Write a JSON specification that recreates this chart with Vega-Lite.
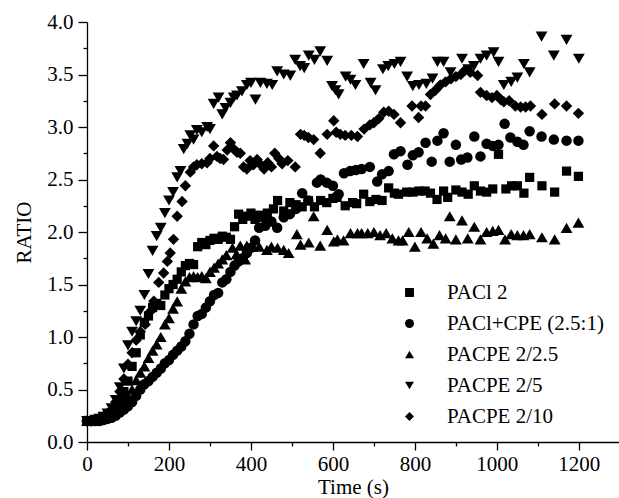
{
  "$schema": "https://vega.github.io/schema/vega-lite/v6.json",
  "autosize": {"type": "none"},
  "padding": {"left": 87, "top": 22, "right": 0, "bottom": 56},
  "width": 532,
  "height": 420,
  "background": "white",
  "config": {
    "view": {"stroke": null},
    "font": "Liberation Serif, Times New Roman, serif"
  },
  "data": {"values": [
{"s":"PACl 2","t":0,"r":0.20},{"s":"PACl 2","t":10,"r":0.20},{"s":"PACl 2","t":20,"r":0.21},{"s":"PACl 2","t":30,"r":0.22},{"s":"PACl 2","t":40,"r":0.23},{"s":"PACl 2","t":50,"r":0.25},{"s":"PACl 2","t":60,"r":0.28},{"s":"PACl 2","t":70,"r":0.33},{"s":"PACl 2","t":80,"r":0.40},{"s":"PACl 2","t":90,"r":0.48},{"s":"PACl 2","t":100,"r":0.58},{"s":"PACl 2","t":110,"r":0.72},{"s":"PACl 2","t":120,"r":0.85},{"s":"PACl 2","t":130,"r":1.02},{"s":"PACl 2","t":140,"r":1.14},{"s":"PACl 2","t":150,"r":1.20},{"s":"PACl 2","t":160,"r":1.28},{"s":"PACl 2","t":170,"r":1.32},{"s":"PACl 2","t":180,"r":1.30},{"s":"PACl 2","t":190,"r":1.40},{"s":"PACl 2","t":200,"r":1.46},{"s":"PACl 2","t":210,"r":1.50},{"s":"PACl 2","t":220,"r":1.55},{"s":"PACl 2","t":230,"r":1.62},{"s":"PACl 2","t":240,"r":1.68},{"s":"PACl 2","t":250,"r":1.70},{"s":"PACl 2","t":260,"r":1.69},{"s":"PACl 2","t":270,"r":1.86},{"s":"PACl 2","t":280,"r":1.90},{"s":"PACl 2","t":290,"r":1.88},{"s":"PACl 2","t":300,"r":1.92},{"s":"PACl 2","t":310,"r":1.94},{"s":"PACl 2","t":320,"r":1.93},{"s":"PACl 2","t":330,"r":1.96},{"s":"PACl 2","t":340,"r":1.95},{"s":"PACl 2","t":350,"r":1.93},{"s":"PACl 2","t":360,"r":2.05},{"s":"PACl 2","t":370,"r":2.17},{"s":"PACl 2","t":380,"r":2.12},{"s":"PACl 2","t":390,"r":2.15},{"s":"PACl 2","t":400,"r":2.18},{"s":"PACl 2","t":410,"r":2.12},{"s":"PACl 2","t":420,"r":2.16},{"s":"PACl 2","t":430,"r":2.14},{"s":"PACl 2","t":440,"r":2.18},{"s":"PACl 2","t":455,"r":2.22},{"s":"PACl 2","t":465,"r":2.30},{"s":"PACl 2","t":480,"r":2.20},{"s":"PACl 2","t":495,"r":2.28},{"s":"PACl 2","t":510,"r":2.26},{"s":"PACl 2","t":525,"r":2.24},{"s":"PACl 2","t":540,"r":2.30},{"s":"PACl 2","t":555,"r":2.24},{"s":"PACl 2","t":570,"r":2.30},{"s":"PACl 2","t":585,"r":2.28},{"s":"PACl 2","t":600,"r":2.32},{"s":"PACl 2","t":610,"r":2.33},{"s":"PACl 2","t":630,"r":2.25},{"s":"PACl 2","t":648,"r":2.28},{"s":"PACl 2","t":658,"r":2.27},{"s":"PACl 2","t":675,"r":2.36},{"s":"PACl 2","t":690,"r":2.29},{"s":"PACl 2","t":705,"r":2.31},{"s":"PACl 2","t":720,"r":2.30},{"s":"PACl 2","t":736,"r":2.42},{"s":"PACl 2","t":750,"r":2.37},{"s":"PACl 2","t":760,"r":2.36},{"s":"PACl 2","t":780,"r":2.38},{"s":"PACl 2","t":795,"r":2.38},{"s":"PACl 2","t":810,"r":2.39},{"s":"PACl 2","t":825,"r":2.39},{"s":"PACl 2","t":838,"r":2.37},{"s":"PACl 2","t":854,"r":2.31},{"s":"PACl 2","t":870,"r":2.39},{"s":"PACl 2","t":880,"r":2.33},{"s":"PACl 2","t":900,"r":2.40},{"s":"PACl 2","t":915,"r":2.38},{"s":"PACl 2","t":930,"r":2.36},{"s":"PACl 2","t":945,"r":2.44},{"s":"PACl 2","t":960,"r":2.39},{"s":"PACl 2","t":975,"r":2.38},{"s":"PACl 2","t":990,"r":2.41},{"s":"PACl 2","t":1004,"r":2.74},{"s":"PACl 2","t":1022,"r":2.41},{"s":"PACl 2","t":1036,"r":2.44},{"s":"PACl 2","t":1050,"r":2.44},{"s":"PACl 2","t":1066,"r":2.37},{"s":"PACl 2","t":1080,"r":2.52},{"s":"PACl 2","t":1110,"r":2.44},{"s":"PACl 2","t":1141,"r":2.38},{"s":"PACl 2","t":1170,"r":2.58},{"s":"PACl 2","t":1199,"r":2.53},
{"s":"PACl+CPE (2.5:1)","t":0,"r":0.20},{"s":"PACl+CPE (2.5:1)","t":10,"r":0.20},{"s":"PACl+CPE (2.5:1)","t":20,"r":0.20},{"s":"PACl+CPE (2.5:1)","t":30,"r":0.20},{"s":"PACl+CPE (2.5:1)","t":40,"r":0.21},{"s":"PACl+CPE (2.5:1)","t":50,"r":0.22},{"s":"PACl+CPE (2.5:1)","t":60,"r":0.23},{"s":"PACl+CPE (2.5:1)","t":70,"r":0.25},{"s":"PACl+CPE (2.5:1)","t":80,"r":0.28},{"s":"PACl+CPE (2.5:1)","t":90,"r":0.31},{"s":"PACl+CPE (2.5:1)","t":100,"r":0.34},{"s":"PACl+CPE (2.5:1)","t":110,"r":0.38},{"s":"PACl+CPE (2.5:1)","t":120,"r":0.44},{"s":"PACl+CPE (2.5:1)","t":130,"r":0.50},{"s":"PACl+CPE (2.5:1)","t":140,"r":0.55},{"s":"PACl+CPE (2.5:1)","t":150,"r":0.58},{"s":"PACl+CPE (2.5:1)","t":160,"r":0.62},{"s":"PACl+CPE (2.5:1)","t":170,"r":0.66},{"s":"PACl+CPE (2.5:1)","t":180,"r":0.70},{"s":"PACl+CPE (2.5:1)","t":190,"r":0.75},{"s":"PACl+CPE (2.5:1)","t":200,"r":0.78},{"s":"PACl+CPE (2.5:1)","t":210,"r":0.83},{"s":"PACl+CPE (2.5:1)","t":220,"r":0.87},{"s":"PACl+CPE (2.5:1)","t":230,"r":0.91},{"s":"PACl+CPE (2.5:1)","t":240,"r":0.96},{"s":"PACl+CPE (2.5:1)","t":250,"r":1.03},{"s":"PACl+CPE (2.5:1)","t":260,"r":1.12},{"s":"PACl+CPE (2.5:1)","t":270,"r":1.20},{"s":"PACl+CPE (2.5:1)","t":280,"r":1.22},{"s":"PACl+CPE (2.5:1)","t":290,"r":1.28},{"s":"PACl+CPE (2.5:1)","t":300,"r":1.34},{"s":"PACl+CPE (2.5:1)","t":310,"r":1.40},{"s":"PACl+CPE (2.5:1)","t":320,"r":1.42},{"s":"PACl+CPE (2.5:1)","t":330,"r":1.52},{"s":"PACl+CPE (2.5:1)","t":340,"r":1.55},{"s":"PACl+CPE (2.5:1)","t":350,"r":1.62},{"s":"PACl+CPE (2.5:1)","t":360,"r":1.68},{"s":"PACl+CPE (2.5:1)","t":370,"r":1.72},{"s":"PACl+CPE (2.5:1)","t":380,"r":1.75},{"s":"PACl+CPE (2.5:1)","t":390,"r":1.80},{"s":"PACl+CPE (2.5:1)","t":400,"r":1.85},{"s":"PACl+CPE (2.5:1)","t":410,"r":1.92},{"s":"PACl+CPE (2.5:1)","t":420,"r":2.04},{"s":"PACl+CPE (2.5:1)","t":435,"r":2.06},{"s":"PACl+CPE (2.5:1)","t":450,"r":2.10},{"s":"PACl+CPE (2.5:1)","t":464,"r":2.04},{"s":"PACl+CPE (2.5:1)","t":480,"r":2.14},{"s":"PACl+CPE (2.5:1)","t":495,"r":2.17},{"s":"PACl+CPE (2.5:1)","t":510,"r":2.22},{"s":"PACl+CPE (2.5:1)","t":525,"r":2.37},{"s":"PACl+CPE (2.5:1)","t":540,"r":2.30},{"s":"PACl+CPE (2.5:1)","t":561,"r":2.47},{"s":"PACl+CPE (2.5:1)","t":570,"r":2.50},{"s":"PACl+CPE (2.5:1)","t":585,"r":2.47},{"s":"PACl+CPE (2.5:1)","t":600,"r":2.44},{"s":"PACl+CPE (2.5:1)","t":614,"r":2.36},{"s":"PACl+CPE (2.5:1)","t":627,"r":2.56},{"s":"PACl+CPE (2.5:1)","t":642,"r":2.58},{"s":"PACl+CPE (2.5:1)","t":656,"r":2.59},{"s":"PACl+CPE (2.5:1)","t":670,"r":2.60},{"s":"PACl+CPE (2.5:1)","t":690,"r":2.62},{"s":"PACl+CPE (2.5:1)","t":708,"r":2.48},{"s":"PACl+CPE (2.5:1)","t":720,"r":2.55},{"s":"PACl+CPE (2.5:1)","t":736,"r":2.58},{"s":"PACl+CPE (2.5:1)","t":749,"r":2.74},{"s":"PACl+CPE (2.5:1)","t":765,"r":2.77},{"s":"PACl+CPE (2.5:1)","t":782,"r":2.64},{"s":"PACl+CPE (2.5:1)","t":795,"r":2.73},{"s":"PACl+CPE (2.5:1)","t":809,"r":2.76},{"s":"PACl+CPE (2.5:1)","t":826,"r":2.85},{"s":"PACl+CPE (2.5:1)","t":841,"r":2.67},{"s":"PACl+CPE (2.5:1)","t":855,"r":2.87},{"s":"PACl+CPE (2.5:1)","t":870,"r":2.94},{"s":"PACl+CPE (2.5:1)","t":885,"r":2.67},{"s":"PACl+CPE (2.5:1)","t":900,"r":2.83},{"s":"PACl+CPE (2.5:1)","t":913,"r":2.69},{"s":"PACl+CPE (2.5:1)","t":928,"r":2.71},{"s":"PACl+CPE (2.5:1)","t":945,"r":2.91},{"s":"PACl+CPE (2.5:1)","t":960,"r":2.72},{"s":"PACl+CPE (2.5:1)","t":975,"r":2.84},{"s":"PACl+CPE (2.5:1)","t":990,"r":2.82},{"s":"PACl+CPE (2.5:1)","t":1004,"r":2.83},{"s":"PACl+CPE (2.5:1)","t":1019,"r":3.03},{"s":"PACl+CPE (2.5:1)","t":1033,"r":2.90},{"s":"PACl+CPE (2.5:1)","t":1050,"r":2.86},{"s":"PACl+CPE (2.5:1)","t":1065,"r":2.83},{"s":"PACl+CPE (2.5:1)","t":1080,"r":2.96},{"s":"PACl+CPE (2.5:1)","t":1109,"r":2.91},{"s":"PACl+CPE (2.5:1)","t":1139,"r":2.88},{"s":"PACl+CPE (2.5:1)","t":1170,"r":2.87},{"s":"PACl+CPE (2.5:1)","t":1199,"r":2.87},
{"s":"PACPE 2/2.5","t":0,"r":0.20},{"s":"PACPE 2/2.5","t":10,"r":0.20},{"s":"PACPE 2/2.5","t":20,"r":0.21},{"s":"PACPE 2/2.5","t":30,"r":0.21},{"s":"PACPE 2/2.5","t":40,"r":0.22},{"s":"PACPE 2/2.5","t":50,"r":0.24},{"s":"PACPE 2/2.5","t":60,"r":0.27},{"s":"PACPE 2/2.5","t":70,"r":0.31},{"s":"PACPE 2/2.5","t":80,"r":0.36},{"s":"PACPE 2/2.5","t":90,"r":0.40},{"s":"PACPE 2/2.5","t":100,"r":0.44},{"s":"PACPE 2/2.5","t":110,"r":0.50},{"s":"PACPE 2/2.5","t":120,"r":0.59},{"s":"PACPE 2/2.5","t":130,"r":0.66},{"s":"PACPE 2/2.5","t":140,"r":0.72},{"s":"PACPE 2/2.5","t":150,"r":0.80},{"s":"PACPE 2/2.5","t":160,"r":0.87},{"s":"PACPE 2/2.5","t":170,"r":0.93},{"s":"PACPE 2/2.5","t":180,"r":1.00},{"s":"PACPE 2/2.5","t":190,"r":1.12},{"s":"PACPE 2/2.5","t":200,"r":1.18},{"s":"PACPE 2/2.5","t":210,"r":1.27},{"s":"PACPE 2/2.5","t":220,"r":1.34},{"s":"PACPE 2/2.5","t":230,"r":1.46},{"s":"PACPE 2/2.5","t":240,"r":1.53},{"s":"PACPE 2/2.5","t":250,"r":1.57},{"s":"PACPE 2/2.5","t":260,"r":1.58},{"s":"PACPE 2/2.5","t":270,"r":1.57},{"s":"PACPE 2/2.5","t":280,"r":1.58},{"s":"PACPE 2/2.5","t":290,"r":1.56},{"s":"PACPE 2/2.5","t":300,"r":1.62},{"s":"PACPE 2/2.5","t":310,"r":1.66},{"s":"PACPE 2/2.5","t":320,"r":1.70},{"s":"PACPE 2/2.5","t":330,"r":1.74},{"s":"PACPE 2/2.5","t":340,"r":1.78},{"s":"PACPE 2/2.5","t":355,"r":1.85},{"s":"PACPE 2/2.5","t":365,"r":1.79},{"s":"PACPE 2/2.5","t":374,"r":1.87},{"s":"PACPE 2/2.5","t":386,"r":1.74},{"s":"PACPE 2/2.5","t":390,"r":1.87},{"s":"PACPE 2/2.5","t":403,"r":1.86},{"s":"PACPE 2/2.5","t":420,"r":1.86},{"s":"PACPE 2/2.5","t":439,"r":1.83},{"s":"PACPE 2/2.5","t":450,"r":1.86},{"s":"PACPE 2/2.5","t":465,"r":1.85},{"s":"PACPE 2/2.5","t":480,"r":1.83},{"s":"PACPE 2/2.5","t":492,"r":1.80},{"s":"PACPE 2/2.5","t":512,"r":1.98},{"s":"PACPE 2/2.5","t":521,"r":1.88},{"s":"PACPE 2/2.5","t":541,"r":1.90},{"s":"PACPE 2/2.5","t":553,"r":2.15},{"s":"PACPE 2/2.5","t":569,"r":1.87},{"s":"PACPE 2/2.5","t":586,"r":2.02},{"s":"PACPE 2/2.5","t":602,"r":1.91},{"s":"PACPE 2/2.5","t":611,"r":1.93},{"s":"PACPE 2/2.5","t":626,"r":1.92},{"s":"PACPE 2/2.5","t":643,"r":1.99},{"s":"PACPE 2/2.5","t":660,"r":1.99},{"s":"PACPE 2/2.5","t":670,"r":1.99},{"s":"PACPE 2/2.5","t":685,"r":1.99},{"s":"PACPE 2/2.5","t":700,"r":2.00},{"s":"PACPE 2/2.5","t":715,"r":1.97},{"s":"PACPE 2/2.5","t":730,"r":1.99},{"s":"PACPE 2/2.5","t":745,"r":1.94},{"s":"PACPE 2/2.5","t":760,"r":1.92},{"s":"PACPE 2/2.5","t":770,"r":1.92},{"s":"PACPE 2/2.5","t":785,"r":2.00},{"s":"PACPE 2/2.5","t":800,"r":1.86},{"s":"PACPE 2/2.5","t":815,"r":2.00},{"s":"PACPE 2/2.5","t":830,"r":1.94},{"s":"PACPE 2/2.5","t":845,"r":1.89},{"s":"PACPE 2/2.5","t":860,"r":1.97},{"s":"PACPE 2/2.5","t":875,"r":1.94},{"s":"PACPE 2/2.5","t":885,"r":2.15},{"s":"PACPE 2/2.5","t":900,"r":1.93},{"s":"PACPE 2/2.5","t":915,"r":2.11},{"s":"PACPE 2/2.5","t":929,"r":1.94},{"s":"PACPE 2/2.5","t":945,"r":2.05},{"s":"PACPE 2/2.5","t":960,"r":1.93},{"s":"PACPE 2/2.5","t":975,"r":2.00},{"s":"PACPE 2/2.5","t":990,"r":2.01},{"s":"PACPE 2/2.5","t":1004,"r":2.02},{"s":"PACPE 2/2.5","t":1020,"r":1.93},{"s":"PACPE 2/2.5","t":1035,"r":1.98},{"s":"PACPE 2/2.5","t":1050,"r":1.97},{"s":"PACPE 2/2.5","t":1065,"r":1.97},{"s":"PACPE 2/2.5","t":1080,"r":1.98},{"s":"PACPE 2/2.5","t":1110,"r":1.95},{"s":"PACPE 2/2.5","t":1141,"r":1.93},{"s":"PACPE 2/2.5","t":1170,"r":2.04},{"s":"PACPE 2/2.5","t":1199,"r":2.09},
{"s":"PACPE 2/5","t":0,"r":0.20},{"s":"PACPE 2/5","t":10,"r":0.20},{"s":"PACPE 2/5","t":20,"r":0.21},{"s":"PACPE 2/5","t":30,"r":0.22},{"s":"PACPE 2/5","t":40,"r":0.24},{"s":"PACPE 2/5","t":50,"r":0.27},{"s":"PACPE 2/5","t":60,"r":0.32},{"s":"PACPE 2/5","t":70,"r":0.40},{"s":"PACPE 2/5","t":80,"r":0.52},{"s":"PACPE 2/5","t":90,"r":0.70},{"s":"PACPE 2/5","t":100,"r":0.92},{"s":"PACPE 2/5","t":110,"r":1.05},{"s":"PACPE 2/5","t":120,"r":1.15},{"s":"PACPE 2/5","t":130,"r":1.25},{"s":"PACPE 2/5","t":140,"r":1.40},{"s":"PACPE 2/5","t":150,"r":1.60},{"s":"PACPE 2/5","t":160,"r":1.82},{"s":"PACPE 2/5","t":170,"r":1.96},{"s":"PACPE 2/5","t":180,"r":2.04},{"s":"PACPE 2/5","t":190,"r":2.18},{"s":"PACPE 2/5","t":200,"r":2.30},{"s":"PACPE 2/5","t":210,"r":2.38},{"s":"PACPE 2/5","t":220,"r":2.52},{"s":"PACPE 2/5","t":228,"r":2.58},{"s":"PACPE 2/5","t":236,"r":2.79},{"s":"PACPE 2/5","t":245,"r":2.84},{"s":"PACPE 2/5","t":252,"r":2.92},{"s":"PACPE 2/5","t":260,"r":2.88},{"s":"PACPE 2/5","t":268,"r":2.97},{"s":"PACPE 2/5","t":280,"r":2.95},{"s":"PACPE 2/5","t":293,"r":3.00},{"s":"PACPE 2/5","t":300,"r":2.98},{"s":"PACPE 2/5","t":309,"r":3.22},{"s":"PACPE 2/5","t":321,"r":3.28},{"s":"PACPE 2/5","t":330,"r":3.12},{"s":"PACPE 2/5","t":338,"r":3.18},{"s":"PACPE 2/5","t":350,"r":3.23},{"s":"PACPE 2/5","t":358,"r":3.28},{"s":"PACPE 2/5","t":366,"r":3.30},{"s":"PACPE 2/5","t":378,"r":3.34},{"s":"PACPE 2/5","t":390,"r":3.40},{"s":"PACPE 2/5","t":400,"r":3.42},{"s":"PACPE 2/5","t":411,"r":3.26},{"s":"PACPE 2/5","t":423,"r":3.42},{"s":"PACPE 2/5","t":439,"r":3.41},{"s":"PACPE 2/5","t":452,"r":3.40},{"s":"PACPE 2/5","t":464,"r":3.53},{"s":"PACPE 2/5","t":480,"r":3.50},{"s":"PACPE 2/5","t":496,"r":3.49},{"s":"PACPE 2/5","t":508,"r":3.64},{"s":"PACPE 2/5","t":520,"r":3.58},{"s":"PACPE 2/5","t":530,"r":3.56},{"s":"PACPE 2/5","t":541,"r":3.68},{"s":"PACPE 2/5","t":555,"r":3.64},{"s":"PACPE 2/5","t":569,"r":3.72},{"s":"PACPE 2/5","t":586,"r":3.63},{"s":"PACPE 2/5","t":598,"r":3.39},{"s":"PACPE 2/5","t":606,"r":3.35},{"s":"PACPE 2/5","t":614,"r":3.31},{"s":"PACPE 2/5","t":631,"r":3.48},{"s":"PACPE 2/5","t":643,"r":3.45},{"s":"PACPE 2/5","t":655,"r":3.40},{"s":"PACPE 2/5","t":675,"r":3.60},{"s":"PACPE 2/5","t":692,"r":3.42},{"s":"PACPE 2/5","t":704,"r":3.35},{"s":"PACPE 2/5","t":722,"r":3.55},{"s":"PACPE 2/5","t":735,"r":3.58},{"s":"PACPE 2/5","t":750,"r":3.60},{"s":"PACPE 2/5","t":765,"r":3.62},{"s":"PACPE 2/5","t":781,"r":3.48},{"s":"PACPE 2/5","t":795,"r":3.39},{"s":"PACPE 2/5","t":810,"r":3.40},{"s":"PACPE 2/5","t":828,"r":3.41},{"s":"PACPE 2/5","t":843,"r":3.46},{"s":"PACPE 2/5","t":855,"r":3.62},{"s":"PACPE 2/5","t":870,"r":3.62},{"s":"PACPE 2/5","t":887,"r":3.52},{"s":"PACPE 2/5","t":915,"r":3.65},{"s":"PACPE 2/5","t":930,"r":3.55},{"s":"PACPE 2/5","t":944,"r":3.58},{"s":"PACPE 2/5","t":960,"r":3.65},{"s":"PACPE 2/5","t":975,"r":3.68},{"s":"PACPE 2/5","t":992,"r":3.71},{"s":"PACPE 2/5","t":1004,"r":3.62},{"s":"PACPE 2/5","t":1017,"r":3.40},{"s":"PACPE 2/5","t":1035,"r":3.43},{"s":"PACPE 2/5","t":1050,"r":3.47},{"s":"PACPE 2/5","t":1066,"r":3.60},{"s":"PACPE 2/5","t":1080,"r":3.52},{"s":"PACPE 2/5","t":1109,"r":3.86},{"s":"PACPE 2/5","t":1139,"r":3.68},{"s":"PACPE 2/5","t":1170,"r":3.83},{"s":"PACPE 2/5","t":1200,"r":3.65},
{"s":"PACPE 2/10","t":0,"r":0.20},{"s":"PACPE 2/10","t":10,"r":0.20},{"s":"PACPE 2/10","t":20,"r":0.21},{"s":"PACPE 2/10","t":30,"r":0.22},{"s":"PACPE 2/10","t":40,"r":0.24},{"s":"PACPE 2/10","t":50,"r":0.27},{"s":"PACPE 2/10","t":60,"r":0.31},{"s":"PACPE 2/10","t":70,"r":0.38},{"s":"PACPE 2/10","t":80,"r":0.48},{"s":"PACPE 2/10","t":90,"r":0.60},{"s":"PACPE 2/10","t":100,"r":0.74},{"s":"PACPE 2/10","t":110,"r":0.85},{"s":"PACPE 2/10","t":120,"r":0.97},{"s":"PACPE 2/10","t":130,"r":1.05},{"s":"PACPE 2/10","t":142,"r":1.12},{"s":"PACPE 2/10","t":154,"r":1.24},{"s":"PACPE 2/10","t":163,"r":1.34},{"s":"PACPE 2/10","t":175,"r":1.52},{"s":"PACPE 2/10","t":187,"r":1.61},{"s":"PACPE 2/10","t":196,"r":1.72},{"s":"PACPE 2/10","t":203,"r":1.80},{"s":"PACPE 2/10","t":211,"r":1.93},{"s":"PACPE 2/10","t":220,"r":2.15},{"s":"PACPE 2/10","t":232,"r":2.29},{"s":"PACPE 2/10","t":240,"r":2.44},{"s":"PACPE 2/10","t":252,"r":2.57},{"s":"PACPE 2/10","t":260,"r":2.62},{"s":"PACPE 2/10","t":268,"r":2.64},{"s":"PACPE 2/10","t":280,"r":2.65},{"s":"PACPE 2/10","t":293,"r":2.66},{"s":"PACPE 2/10","t":300,"r":2.70},{"s":"PACPE 2/10","t":309,"r":2.82},{"s":"PACPE 2/10","t":317,"r":2.72},{"s":"PACPE 2/10","t":325,"r":2.70},{"s":"PACPE 2/10","t":333,"r":2.69},{"s":"PACPE 2/10","t":342,"r":2.78},{"s":"PACPE 2/10","t":350,"r":2.85},{"s":"PACPE 2/10","t":358,"r":2.79},{"s":"PACPE 2/10","t":366,"r":2.76},{"s":"PACPE 2/10","t":374,"r":2.75},{"s":"PACPE 2/10","t":382,"r":2.62},{"s":"PACPE 2/10","t":390,"r":2.60},{"s":"PACPE 2/10","t":398,"r":2.68},{"s":"PACPE 2/10","t":406,"r":2.64},{"s":"PACPE 2/10","t":415,"r":2.69},{"s":"PACPE 2/10","t":424,"r":2.64},{"s":"PACPE 2/10","t":432,"r":2.60},{"s":"PACPE 2/10","t":441,"r":2.66},{"s":"PACPE 2/10","t":450,"r":2.62},{"s":"PACPE 2/10","t":458,"r":2.75},{"s":"PACPE 2/10","t":468,"r":2.70},{"s":"PACPE 2/10","t":476,"r":2.65},{"s":"PACPE 2/10","t":490,"r":2.68},{"s":"PACPE 2/10","t":508,"r":2.62},{"s":"PACPE 2/10","t":521,"r":2.93},{"s":"PACPE 2/10","t":530,"r":2.92},{"s":"PACPE 2/10","t":540,"r":2.90},{"s":"PACPE 2/10","t":553,"r":2.88},{"s":"PACPE 2/10","t":569,"r":2.75},{"s":"PACPE 2/10","t":586,"r":2.93},{"s":"PACPE 2/10","t":602,"r":3.06},{"s":"PACPE 2/10","t":608,"r":2.95},{"s":"PACPE 2/10","t":618,"r":2.93},{"s":"PACPE 2/10","t":630,"r":2.92},{"s":"PACPE 2/10","t":645,"r":2.92},{"s":"PACPE 2/10","t":660,"r":2.91},{"s":"PACPE 2/10","t":676,"r":2.98},{"s":"PACPE 2/10","t":690,"r":3.02},{"s":"PACPE 2/10","t":700,"r":3.04},{"s":"PACPE 2/10","t":712,"r":3.08},{"s":"PACPE 2/10","t":724,"r":3.14},{"s":"PACPE 2/10","t":736,"r":3.15},{"s":"PACPE 2/10","t":749,"r":3.12},{"s":"PACPE 2/10","t":765,"r":3.04},{"s":"PACPE 2/10","t":793,"r":3.20},{"s":"PACPE 2/10","t":809,"r":3.09},{"s":"PACPE 2/10","t":815,"r":3.20},{"s":"PACPE 2/10","t":826,"r":3.20},{"s":"PACPE 2/10","t":838,"r":3.31},{"s":"PACPE 2/10","t":850,"r":3.35},{"s":"PACPE 2/10","t":862,"r":3.40},{"s":"PACPE 2/10","t":875,"r":3.43},{"s":"PACPE 2/10","t":888,"r":3.46},{"s":"PACPE 2/10","t":900,"r":3.48},{"s":"PACPE 2/10","t":912,"r":3.50},{"s":"PACPE 2/10","t":922,"r":3.54},{"s":"PACPE 2/10","t":935,"r":3.52},{"s":"PACPE 2/10","t":953,"r":3.49},{"s":"PACPE 2/10","t":960,"r":3.33},{"s":"PACPE 2/10","t":975,"r":3.30},{"s":"PACPE 2/10","t":988,"r":3.28},{"s":"PACPE 2/10","t":1000,"r":3.30},{"s":"PACPE 2/10","t":1010,"r":3.26},{"s":"PACPE 2/10","t":1017,"r":3.24},{"s":"PACPE 2/10","t":1030,"r":3.25},{"s":"PACPE 2/10","t":1045,"r":3.20},{"s":"PACPE 2/10","t":1058,"r":3.19},{"s":"PACPE 2/10","t":1070,"r":3.19},{"s":"PACPE 2/10","t":1082,"r":3.20},{"s":"PACPE 2/10","t":1110,"r":3.12},{"s":"PACPE 2/10","t":1141,"r":3.22},{"s":"PACPE 2/10","t":1170,"r":3.20},{"s":"PACPE 2/10","t":1199,"r":3.13}
  ]},
  "mark": {"type": "point", "filled": true, "color": "black", "opacity": 1, "strokeWidth": 0},
  "encoding": {
    "x": {
      "field": "t", "type": "quantitative",
      "scale": {"domain": [0, 1298], "nice": false, "zero": false},
      "axis": {
        "title": "Time (s)",
        "values": [0,100,200,300,400,500,600,700,800,900,1000,1100,1200],
        "labelExpr": "datum.value % 200 === 0 ? format(datum.value, 'd') : ''",
        "grid": false,
        "domainColor": "black", "domainWidth": 1.3,
        "tickColor": "black", "tickWidth": 1.3,
        "tickSize": {"condition": {"test": "datum.value % 200 !== 0", "value": 4}, "value": 8},
        "labelFont": "Liberation Serif, Times New Roman, serif", "labelFontSize": 21, "labelColor": "black", "labelPadding": 3,
        "labelOverlap": false, "labelFlush": false,
        "titleFont": "Liberation Serif, Times New Roman, serif", "titleFontSize": 21, "titleFontWeight": "normal", "titleColor": "black", "titlePadding": 2
      }
    },
    "y": {
      "field": "r", "type": "quantitative",
      "scale": {"domain": [0, 4], "nice": false, "zero": true},
      "axis": {
        "title": "RATIO",
        "values": [0,0.25,0.5,0.75,1,1.25,1.5,1.75,2,2.25,2.5,2.75,3,3.25,3.5,3.75,4],
        "labelExpr": "datum.value % 0.5 === 0 ? format(datum.value, '.1f') : ''",
        "grid": false,
        "domainColor": "black", "domainWidth": 1.3,
        "tickColor": "black", "tickWidth": 1.3,
        "tickSize": {"condition": {"test": "datum.value % 0.5 !== 0", "value": 4}, "value": 9},
        "labelFont": "Liberation Serif, Times New Roman, serif", "labelFontSize": 21, "labelColor": "black", "labelPadding": 5,
        "labelOverlap": false, "labelFlush": false,
        "titleFont": "Liberation Serif, Times New Roman, serif", "titleFontSize": 21, "titleFontWeight": "normal", "titleColor": "black", "titlePadding": 12
      }
    },
    "size": {
      "condition": [
        {"test": "datum.s === 'PACl 2'", "value": 85},
        {"test": "datum.s === 'PACl+CPE (2.5:1)'", "value": 110},
        {"test": "datum.s === 'PACPE 2/10'", "value": 130}
      ],
      "value": 140
    },
    "shape": {
      "field": "s", "type": "nominal",
      "scale": {
        "domain": ["PACl 2", "PACl+CPE (2.5:1)", "PACPE 2/2.5", "PACPE 2/5", "PACPE 2/10"],
        "range": ["square", "circle", "triangle-up", "triangle-down", "diamond"]
      },
      "legend": {
        "title": null,
        "orient": "none",
        "legendX": 312,
        "legendY": 260,
        "padding": 0,
        "rowPadding": 9,
        "symbolSize": 80,
        "symbolFillColor": "black",
        "symbolStrokeColor": "black",
        "symbolStrokeWidth": 0,
        "labelFont": "Liberation Serif, Times New Roman, serif",
        "labelFontSize": 21,
        "labelColor": "black",
        "labelOffset": 27,
        "labelLimit": 300
      }
    }
  }
}
